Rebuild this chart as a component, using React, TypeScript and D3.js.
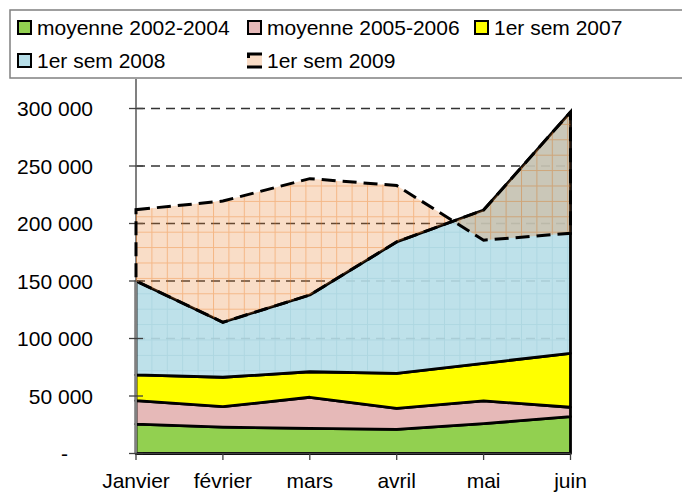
import React, { useRef, useEffect } from "react";
import * as d3 from "d3";

// Data
const months = ["Janvier", "février", "mars", "avril", "mai", "juin"];
const moy0204 = [25500, 23000, 21800, 21000, 26000, 32000];
const moy0506 = [20400, 17700, 27100, 18300, 19700, 8200];
const sem2007 = [22400, 25600, 22200, 30400, 32700, 46900];
const sem2008 = [81700, 47800, 66700, 114300, 133300, 209900];
// 1er sem 2009 : niveau lu directement (ligne pointillée)
const sem2009 = [212000, 219500, 239000, 233000, 185500, 191500];
const yTicks = [0, 50000, 100000, 150000, 200000, 250000, 300000];

const keys = ["moy0204", "moy0506", "sem2007", "sem2008"];
const names = ["moyenne 2002-2004", "moyenne 2005-2006", "1er sem 2007", "1er sem 2008", "1er sem 2009"];
const colors = ["#92D050", "#E6B9B8", "#FFFF00", "#B7DEE8"];

const FONT = "'Liberation Sans', Arial, sans-serif";

const Chart = () => {
  const svgRef = useRef(null);

  useEffect(() => {
    const width = 682;
    const height = 493;

    const svg = d3.select(svgRef.current).attr("width", width).attr("height", height);
    svg.selectAll("*").remove();

    // Patterns
    const defs = svg.append("defs");
    const peach = defs
      .append("pattern")
      .attr("id", "peachGrid")
      .attr("patternUnits", "userSpaceOnUse")
      .attr("x", 136)
      .attr("y", 108.5)
      .attr("width", 15.4)
      .attr("height", 15.4);
    peach.append("rect").attr("width", 15.4).attr("height", 15.4).attr("fill", "rgba(233,128,49,0.27)");
    peach.append("path").attr("d", "M0,0.5H15.4M0.5,0V15.4").attr("stroke", "rgba(236,120,30,0.38)").attr("stroke-width", 1);

    const blue = defs
      .append("pattern")
      .attr("id", "blueGrid")
      .attr("patternUnits", "userSpaceOnUse")
      .attr("x", 136)
      .attr("y", 108.5)
      .attr("width", 15.4)
      .attr("height", 15.4);
    blue.append("rect").attr("width", 15.4).attr("height", 15.4).attr("fill", "rgba(183,222,232,0.9)");
    blue.append("path").attr("d", "M0,0.5H15.4M0.5,0V15.4").attr("stroke", "rgba(160,205,218,0.5)").attr("stroke-width", 1);

    // Scales
    const xScale = d3.scalePoint().domain(months).range([136, 570.5]);
    const yScale = d3.scaleLinear().domain([0, 300000]).range([453.5, 108.5]);

    const rows = months.map((m, i) => ({
      month: m,
      moy0204: moy0204[i],
      moy0506: moy0506[i],
      sem2007: sem2007[i],
      sem2008: sem2008[i],
    }));
    const stacked = d3.stack().keys(keys)(rows);

    // Gridlines
    svg
      .append("g")
      .selectAll("line")
      .data(yTicks.slice(1))
      .join("line")
      .attr("x1", 136)
      .attr("x2", 570.5)
      .attr("y1", (d) => yScale(d))
      .attr("y2", (d) => yScale(d))
      .attr("stroke", "#333")
      .attr("stroke-width", 1.3)
      .attr("stroke-dasharray", "9,6");

    // Stacked areas
    const area = d3
      .area()
      .x((d) => xScale(d.data.month))
      .y0((d) => yScale(d[0]))
      .y1((d) => yScale(d[1]));

    svg
      .append("g")
      .selectAll("path")
      .data(stacked)
      .join("path")
      .attr("d", area)
      .attr("fill", (d, i) => (i === 3 ? "url(#blueGrid)" : colors[i]))
      .attr("stroke", "#000")
      .attr("stroke-width", 2.8)
      .attr("stroke-linejoin", "round");

    // Axes
    const axis = svg.append("g");
    axis
      .append("line")
      .attr("x1", 136)
      .attr("x2", 136)
      .attr("y1", 79)
      .attr("y2", 453.5)
      .attr("stroke", "#808080")
      .attr("stroke-width", 2);
    axis
      .append("line")
      .attr("x1", 136)
      .attr("x2", 570.5)
      .attr("y1", 453.5)
      .attr("y2", 453.5)
      .attr("stroke", "#404040")
      .attr("stroke-width", 1.5);
    axis
      .selectAll(".ytick")
      .data(yTicks)
      .join("line")
      .attr("x1", 129)
      .attr("x2", 143)
      .attr("y1", (d) => yScale(d))
      .attr("y2", (d) => yScale(d))
      .attr("stroke", "#404040")
      .attr("stroke-width", 1.3);
    axis
      .selectAll(".xtick")
      .data(months)
      .join("line")
      .attr("x1", (d) => xScale(d))
      .attr("x2", (d) => xScale(d))
      .attr("y1", 453.5)
      .attr("y2", 460)
      .attr("stroke", "#404040")
      .attr("stroke-width", 1.3);

    // 1er sem 2009 : entre le haut de la pile et le niveau 2009
    const top2008 = stacked[3];
    const area2009 = d3
      .area()
      .x((d, i) => xScale(months[i]))
      .y0((d, i) => yScale(top2008[i][1]))
      .y1((d) => yScale(d));
    svg
      .append("path")
      .datum(sem2009)
      .attr("d", area2009)
      .attr("fill", "url(#peachGrid)")
      .attr("stroke", "#000")
      .attr("stroke-width", 3)
      .attr("stroke-dasharray", "14,7");

    // Tick labels
    const locale = d3.formatLocale({ decimal: ",", thousands: " ", grouping: [3], currency: ["", ""] });
    const fmt = locale.format(",");
    svg
      .append("g")
      .selectAll("text")
      .data(yTicks)
      .join("text")
      .attr("x", (d) => (d === 0 ? 68 : 93))
      .attr("y", (d) => yScale(d) + 7.5)
      .attr("text-anchor", "end")
      .style("font-family", FONT)
      .style("font-size", "21px")
      .text((d) => (d === 0 ? "-" : fmt(d)));

    svg
      .append("g")
      .selectAll("text")
      .data(months)
      .join("text")
      .attr("x", (d) => xScale(d))
      .attr("y", 488)
      .attr("text-anchor", "middle")
      .style("font-family", FONT)
      .style("font-size", "21px")
      .text((d) => d);

    // Legend
    const legend = svg.append("g");
    legend
      .append("rect")
      .attr("x", 10)
      .attr("y", 10)
      .attr("width", 700)
      .attr("height", 68)
      .attr("fill", "#fff")
      .attr("stroke", "#808080")
      .attr("stroke-width", 1.5);

    const items = names.map((name, i) => ({
      name,
      i,
      x: [17, 247, 474][i % 3],
      y: i < 3 ? 35 : 68,
    }));

    const item = legend
      .selectAll("g")
      .data(items)
      .join("g")
      .attr("transform", (d) => `translate(${d.x},${d.y})`);

    item
      .filter((d) => d.i < 4)
      .append("rect")
      .attr("x", 1)
      .attr("y", -14)
      .attr("width", 13)
      .attr("height", 13)
      .attr("fill", (d) => colors[d.i])
      .attr("stroke", "#000")
      .attr("stroke-width", 2);

    const sw = item.filter((d) => d.i === 4);
    sw.append("rect").attr("x", 0).attr("y", -15).attr("width", 15).attr("height", 15).attr("fill", "#F9DCC6");
    sw.append("path").attr("d", "M0,-14H15M0,-1H15M1.5,-15V-10").attr("stroke", "#000").attr("stroke-width", 3);

    item
      .append("text")
      .attr("x", 20)
      .attr("y", 0)
      .style("font-family", FONT)
      .style("font-size", "21px")
      .text((d) => d.name);
  }, []);

  return <svg ref={svgRef} style={{ position: "absolute", left: 0, top: 0 }} />;
};

const App = () => {
  return <Chart />;
};

export default App;
